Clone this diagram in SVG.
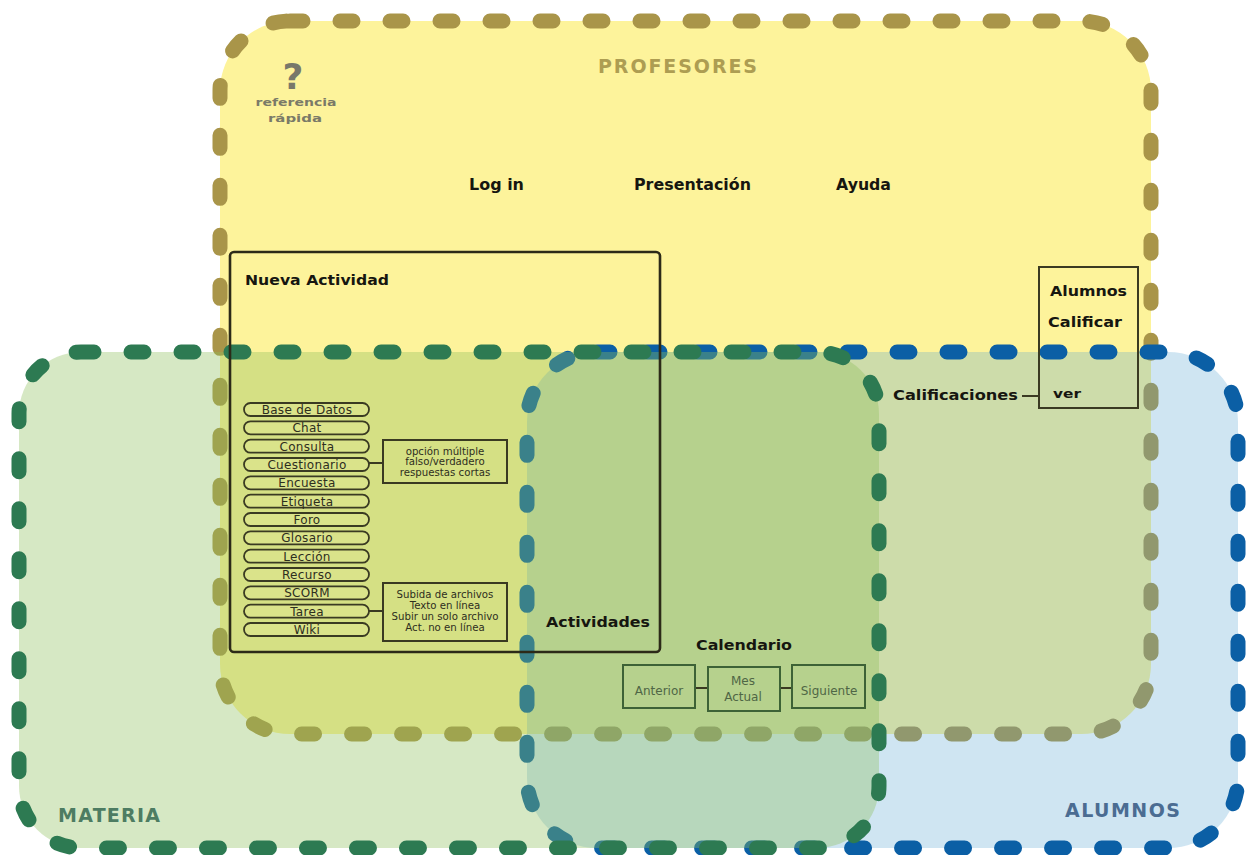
<svg xmlns="http://www.w3.org/2000/svg" width="1246" height="855" viewBox="0 0 1246 855">
<style>
.dash{fill:none;stroke-width:15;stroke-linecap:round;stroke-dasharray:13 37}
.lbl{font-family:"DejaVu Sans","Liberation Sans",sans-serif;font-weight:bold;fill:#161610}
.pill{fill:#eef2a6;fill-opacity:0.2;stroke:#3a3a22;stroke-width:1.8}
.pt{font-family:"DejaVu Sans","Liberation Sans",sans-serif;font-size:12px;fill:#2e2e1e;text-anchor:middle;letter-spacing:0.3px}
.bt{font-family:"DejaVu Sans","Liberation Sans",sans-serif;font-size:10.2px;fill:#2e2e1e;text-anchor:middle}
.ct{font-family:"DejaVu Sans","Liberation Sans",sans-serif;font-size:12px;fill:#4f6645;text-anchor:middle}
.box{fill:none;stroke:#3a3a22;stroke-width:2}
.cbox{fill:none;stroke:#3d6236;stroke-width:2}
.con{stroke:#3a3a22;stroke-width:2;fill:none}
.big{font-family:"DejaVu Sans","Liberation Sans",sans-serif;font-weight:bold;font-size:19px}
</style>

<g id="profesores">
  <rect x="220" y="21" width="931" height="713" rx="70" fill="#fdf39b"/>
  <rect class="dash" x="220" y="21" width="931" height="713" rx="70" stroke="#a99549"/>
  <text class="big" x="598" y="73" fill="#ad9d52" textLength="159" lengthAdjust="spacing">PROFESORES</text>
</g>

<g id="alumnos">
  <rect x="527" y="352" width="711" height="496" rx="70" fill="rgb(84,162,208)" fill-opacity="0.28"/>
  <rect class="dash" x="527" y="352" width="711" height="496" rx="70" stroke="#0b5fa5"/>
  <text class="big" x="1065" y="817" fill="#4b6c92" textLength="115" lengthAdjust="spacing">ALUMNOS</text>
</g>

<g id="materia">
  <rect x="19" y="352" width="860" height="496" rx="62" fill="rgb(141,191,92)" fill-opacity="0.36"/>
  <rect class="dash" x="19" y="352" width="860" height="496" rx="62" stroke="#2d7a52"/>
  <text class="big" x="58" y="822" fill="#4d7c62" textLength="102" lengthAdjust="spacing">MATERIA</text>
</g>

<g id="referencia">
  <text x="293" y="89" font-family="DejaVu Sans,Liberation Sans,sans-serif" font-weight="bold" font-size="36" fill="#78786a" text-anchor="middle">?</text>
  <text x="296" y="106" font-family="DejaVu Sans,Liberation Sans,sans-serif" font-weight="bold" font-size="11" fill="#7a7a68" text-anchor="middle" textLength="81" lengthAdjust="spacingAndGlyphs">referencia</text>
  <text x="295" y="122" font-family="DejaVu Sans,Liberation Sans,sans-serif" font-weight="bold" font-size="11" fill="#7a7a68" text-anchor="middle" textLength="54" lengthAdjust="spacingAndGlyphs">rápida</text>
</g>

<g id="menu">
  <text class="lbl" x="469" y="190" font-size="15" textLength="55" lengthAdjust="spacingAndGlyphs">Log in</text>
  <text class="lbl" x="634" y="190" font-size="15" textLength="117" lengthAdjust="spacingAndGlyphs">Presentación</text>
  <text class="lbl" x="836" y="190" font-size="15" textLength="55" lengthAdjust="spacingAndGlyphs">Ayuda</text>
</g>

<g id="connectors">
  <line class="con" x1="369" y1="463" x2="383" y2="463"/>
  <line class="con" x1="369" y1="611" x2="383" y2="611"/>
  <line class="con" x1="695" y1="688" x2="708" y2="688" stroke="#3d6236"/>
  <line class="con" x1="780" y1="688" x2="792" y2="688" stroke="#3d6236"/>
  <line class="con" x1="1022" y1="396" x2="1039" y2="396"/>
</g>

<g id="nueva-actividad">
  <rect x="230" y="252" width="430" height="400" rx="4" fill="none" stroke="#2c2a18" stroke-width="2.6"/>
  <text class="lbl" x="245" y="285" font-size="14.5" textLength="144" lengthAdjust="spacingAndGlyphs">Nueva Actividad</text>
</g>

<g id="lista">
  <rect class="pill" x="244" y="403" width="125" height="13" rx="6.5"/>
  <text class="pt" x="307" y="414">Base de Datos</text>
  <rect class="pill" x="244" y="421.3" width="125" height="13" rx="6.5"/>
  <text class="pt" x="307" y="432.3">Chat</text>
  <rect class="pill" x="244" y="439.7" width="125" height="13" rx="6.5"/>
  <text class="pt" x="307" y="450.7">Consulta</text>
  <rect class="pill" x="244" y="458" width="125" height="13" rx="6.5"/>
  <text class="pt" x="307" y="469">Cuestionario</text>
  <rect class="pill" x="244" y="476.3" width="125" height="13" rx="6.5"/>
  <text class="pt" x="307" y="487.3">Encuesta</text>
  <rect class="pill" x="244" y="494.7" width="125" height="13" rx="6.5"/>
  <text class="pt" x="307" y="505.7">Etiqueta</text>
  <rect class="pill" x="244" y="513" width="125" height="13" rx="6.5"/>
  <text class="pt" x="307" y="524">Foro</text>
  <rect class="pill" x="244" y="531.3" width="125" height="13" rx="6.5"/>
  <text class="pt" x="307" y="542.3">Glosario</text>
  <rect class="pill" x="244" y="549.7" width="125" height="13" rx="6.5"/>
  <text class="pt" x="307" y="560.7">Lección</text>
  <rect class="pill" x="244" y="568" width="125" height="13" rx="6.5"/>
  <text class="pt" x="307" y="579">Recurso</text>
  <rect class="pill" x="244" y="586.3" width="125" height="13" rx="6.5"/>
  <text class="pt" x="307" y="597.3">SCORM</text>
  <rect class="pill" x="244" y="604.7" width="125" height="13" rx="6.5"/>
  <text class="pt" x="307" y="615.7">Tarea</text>
  <rect class="pill" x="244" y="623" width="125" height="13" rx="6.5"/>
  <text class="pt" x="307" y="634">Wiki</text>
</g>

<g id="cuestionario-opciones">
  <rect class="box" x="383" y="440" width="124" height="43"/>
  <text class="bt" x="445" y="455">opción múltiple</text>
  <text class="bt" x="445" y="465">falso/verdadero</text>
  <text class="bt" x="445" y="475.5">respuestas cortas</text>
</g>

<g id="tarea-opciones">
  <rect class="box" x="383" y="583" width="124" height="58"/>
  <text class="bt" x="445" y="598">Subida de archivos</text>
  <text class="bt" x="445" y="609">Texto en línea</text>
  <text class="bt" x="445" y="620">Subir un solo archivo</text>
  <text class="bt" x="445" y="631">Act. no en línea</text>
</g>

<g id="actividades">
  <text class="lbl" x="546" y="627" font-size="14.5" textLength="104" lengthAdjust="spacingAndGlyphs">Actividades</text>
</g>

<g id="calendario">
  <text class="lbl" x="696" y="650" font-size="14.5" textLength="96" lengthAdjust="spacingAndGlyphs">Calendario</text>
  <rect class="cbox" x="623" y="665" width="72" height="43"/>
  <text class="ct" x="659" y="695">Anterior</text>
  <rect class="cbox" x="708" y="667" width="72" height="44" stroke="#4a5a3c" stroke-width="2.4"/>
  <text class="ct" x="743" y="685">Mes</text>
  <text class="ct" x="743" y="701">Actual</text>
  <rect class="cbox" x="792" y="665" width="73" height="43"/>
  <text class="ct" x="829" y="695">Siguiente</text>
</g>

<g id="alumnos-calificar">
  <rect class="box" x="1039" y="267" width="99" height="141" stroke="#44422a"/>
  <text class="lbl" x="1050" y="296" font-size="14" textLength="77" lengthAdjust="spacingAndGlyphs">Alumnos</text>
  <text class="lbl" x="1048" y="327" font-size="14" textLength="74" lengthAdjust="spacingAndGlyphs">Calificar</text>
  <text class="lbl" x="1053" y="398" font-size="13" textLength="28" lengthAdjust="spacingAndGlyphs">ver</text>
</g>

<g id="calificaciones">
  <text class="lbl" x="893" y="400" font-size="14" textLength="125" lengthAdjust="spacingAndGlyphs">Calificaciones</text>
</g>
</svg>
